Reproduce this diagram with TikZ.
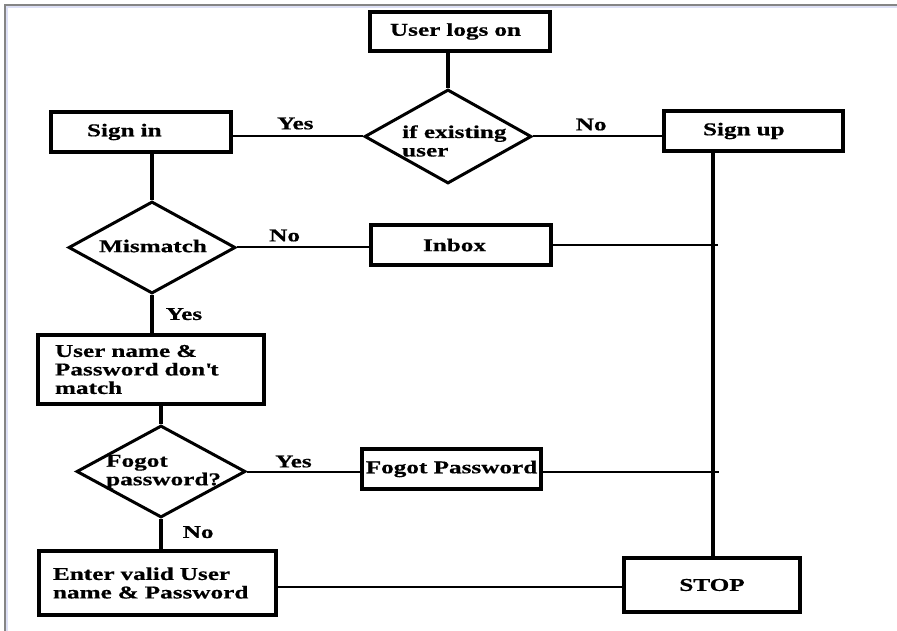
\documentclass[tikz,border=0pt]{standalone}
\usepackage{fontspec}
\setmainfont{Liberation Serif}[FakeStretch=1.4, BoldFeatures={FakeBold=0.6}]
\usetikzlibrary{shapes.geometric,calc}

\definecolor{framegray}{HTML}{858585}
\definecolor{framehalo}{HTML}{DDE0F5}

\tikzset{
  txt/.style={font=\fontsize{18}{18.5}\selectfont\bfseries, inner sep=0pt},
  box/.style={draw, line width=3.5pt, fill=white, rectangle, inner sep=0pt, txt},
  decision/.style={draw, line width=3pt, fill=white, diamond, inner sep=0pt},
  hlink/.style={line width=2pt},
  vlink/.style={line width=3.5pt},
  tag/.style={txt, inner sep=0pt},
}

\begin{document}
\begin{tikzpicture}[x=1pt, y=-1pt]
  \useasboundingbox (0,0) rectangle (897,631);

  % page frame
  \draw[framehalo, line width=1.5pt] (897,7) -- (7,7) -- (7,631);
  \draw[framegray, line width=1.5pt] (897,5) -- (5,5) -- (5,631);

  % process boxes
  \node[box, minimum width=180, minimum height=39, text width=140, align=left]
       (logon) at (460,31.5) {\mbox{User logs on}};
  \node[box, minimum width=180, minimum height=40, text width=108, align=left]
       (signin) at (141,132) {\mbox{Sign in}};
  \node[box, minimum width=179, minimum height=40, text width=101, align=left]
       (signup) at (753.5,131) {\mbox{Sign up}};
  \node[box, minimum width=180, minimum height=40, text width=76, align=left]
       (inbox) at (461,245) {\mbox{Inbox}};
  \node[box, minimum width=226, minimum height=69, text width=192, align=left]
       (umatch) at (151,369.5) {\mbox{User name \&}\\\mbox{Password don\textquotesingle t}\\\mbox{match}};
  \node[box, minimum width=179, minimum height=40]
       (fpass) at (451.5,469) {Fogot Password};
  \node[box, minimum width=237, minimum height=64, text width=209, align=left]
       (enter) at (157.5,583) {\mbox{Enter valid User}\\\mbox{name \& Password}};
  \node[box, minimum width=176, minimum height=54]
       (stop) at (712,585) {STOP};

  % decisions
  \node[decision, minimum width=167, minimum height=94] (exist) at (448,136.5) {};
  \node[decision, minimum width=167, minimum height=92] (mismatch) at (152,247.5) {};
  \node[decision, minimum width=169, minimum height=92] (fogot) at (161,471.5) {};

  \node[tag, anchor=west, align=left] (existtxt) at (402,141) {if existing\\user};
  \node[tag] (mismatchtxt) at (153,246) {Mismatch};
  \node[tag, anchor=west, align=left] (fogottxt) at (106,472) {Fogot\\password?};

  % trunk on the right, from Sign up down to STOP
  \coordinate (trunk) at (713,151);
  \coordinate (trunkend) at (trunk |- stop.north);

  % vertical connectors
  \draw[vlink] (exist.north) -- (exist.north |- logon.south);
  \draw[vlink] (mismatch.north) -- (mismatch.north |- signin.south);
  \draw[vlink] (mismatch.south) -- (mismatch.south |- umatch.north)
       node[tag, midway, right, xshift=12pt] (lyes2) {Yes};
  \draw[vlink] (fogot.south) -- (fogot.south |- enter.north)
       node[tag, midway, right, xshift=20pt, yshift=2pt] (lno3) {No};
  \draw[vlink] (fogot.north) -- (fogot.north |- umatch.south);
  \draw[vlink] (trunk) -- (trunkend);

  % horizontal connectors
  \draw[hlink] (exist.west) -- (exist.west -| signin.east)
       node[tag, pos=0.52, above, yshift=6pt] (lyes1) {Yes};
  \draw[hlink] (exist.east) -- (exist.east -| signup.west)
       node[tag, pos=0.45, above, yshift=5pt] (lno1) {No};
  \draw[hlink] (mismatch.east) -- (mismatch.east -| inbox.west)
       node[tag, pos=0.36, above, yshift=5pt] (lno2) {No};
  \draw[hlink] (inbox.east) -- ($(inbox.east -| trunk)+(5,0)$);
  \draw[hlink] (fogot.east) -- (fogot.east -| fpass.west)
       node[tag, pos=0.41, above, yshift=3pt] (lyes3) {Yes};
  \draw[hlink] (fpass.east |- fogot.east) -- ($(fogot.east -| trunk)+(6,0)$);
  \draw[hlink] (enter.east |- 0,587) -- (stop.west |- 0,587);
\end{tikzpicture}
\end{document}
